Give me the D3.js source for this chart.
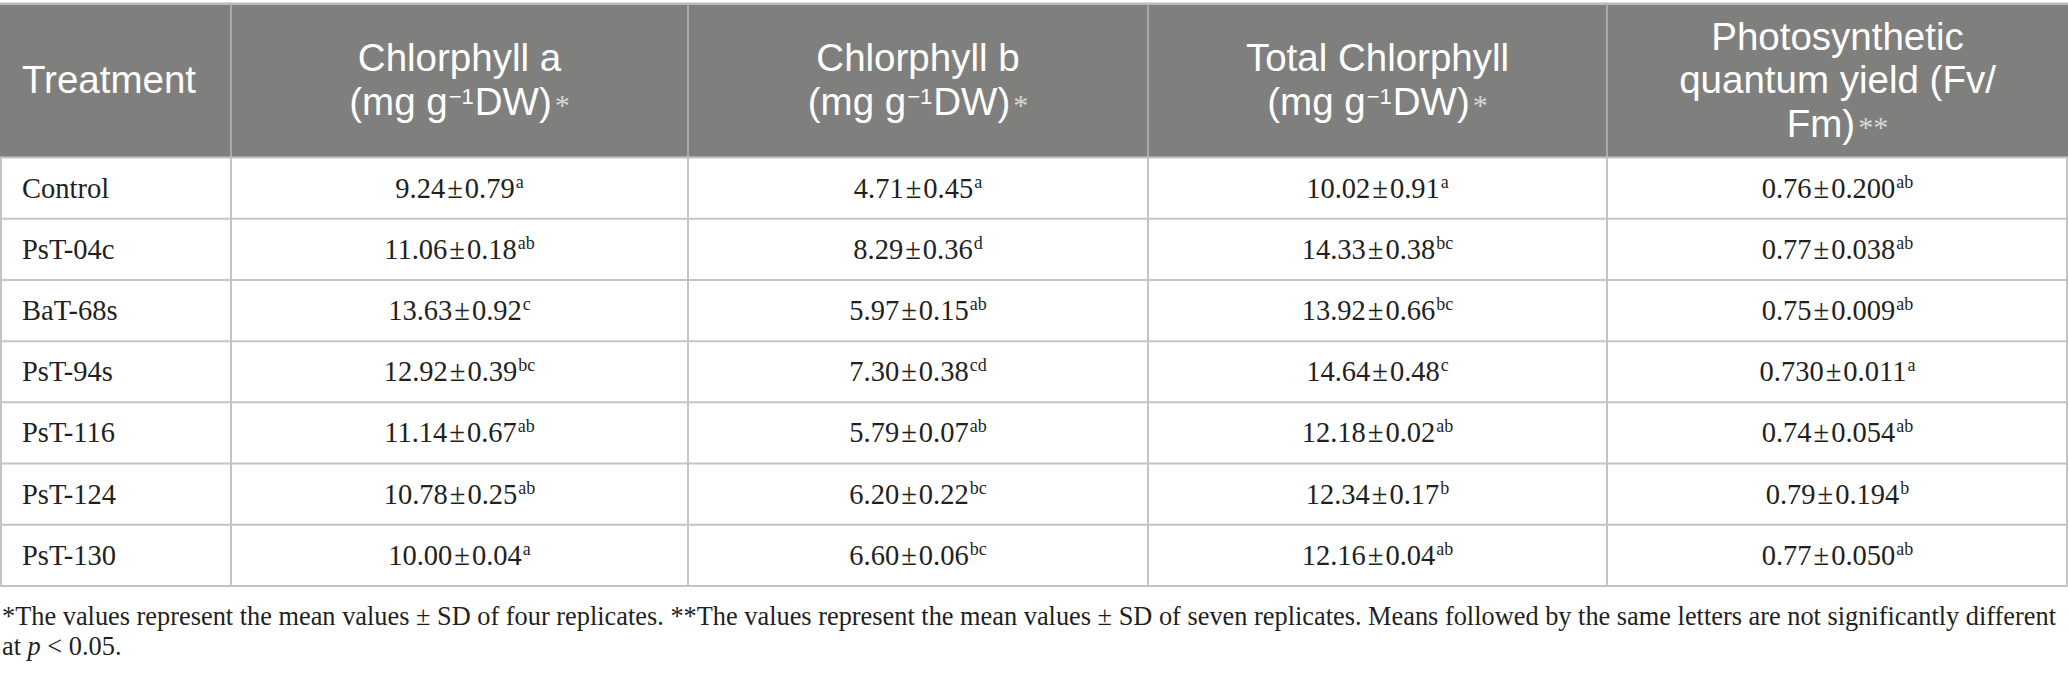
<!DOCTYPE html>
<html>
<head>
<meta charset="utf-8">
<script src="https://cdn.jsdelivr.net/npm/d3@7"></script>
<style>
  html, body { margin: 0; padding: 0; background: #ffffff; }
  svg { display: block; }
</style>
</head>
<body>
<svg id="chart" width="2068" height="676"></svg>
<script>
// ---------------- data ----------------
const treatments = ["Control", "PsT-04c", "BaT-68s", "PsT-94s", "PsT-116", "PsT-124", "PsT-130"];

const chlAMean = ["9.24", "11.06", "13.63", "12.92", "11.14", "10.78", "10.00"];
const chlASd   = ["0.79", "0.18", "0.92", "0.39", "0.67", "0.25", "0.04"];
const chlASig  = ["a", "ab", "c", "bc", "ab", "ab", "a"];

const chlBMean = ["4.71", "8.29", "5.97", "7.30", "5.79", "6.20", "6.60"];
const chlBSd   = ["0.45", "0.36", "0.15", "0.38", "0.07", "0.22", "0.06"];
const chlBSig  = ["a", "d", "ab", "cd", "ab", "bc", "bc"];

const totMean  = ["10.02", "14.33", "13.92", "14.64", "12.18", "12.34", "12.16"];
const totSd    = ["0.91", "0.38", "0.66", "0.48", "0.02", "0.17", "0.04"];
const totSig   = ["a", "bc", "bc", "c", "ab", "b", "ab"];

const fvfmMean = ["0.76", "0.77", "0.75", "0.730", "0.74", "0.79", "0.77"];
const fvfmSd   = ["0.200", "0.038", "0.009", "0.011", "0.054", "0.194", "0.050"];
const fvfmSig  = ["ab", "ab", "ab", "a", "ab", "b", "ab"];

const columnKeys = ["treatment", "chlA", "chlB", "total", "fvfm"];
const headerLines = [
  ["Treatment"],
  ["Chlorphyll a", "(mg g^{\u22121}DW)*"],
  ["Chlorphyll b", "(mg g^{\u22121}DW)*"],
  ["Total Chlorphyll", "(mg g^{\u22121}DW)*"],
  ["Photosynthetic", "quantum yield (Fv/", "Fm)**"]
];
const footnoteLine1 = "*The values represent the mean values \u00b1 SD of four replicates. **The values represent the mean values \u00b1 SD of seven replicates. Means followed by the same letters are not significantly different";

// ---------------- layout ----------------
const W = 2068;
const tableTop = 4.5, headerBottom = 157.5, tableBottom = 586;
const colEdges = [0, 231, 688, 1148, 1607, 2068];

const colLeft  = d3.scaleOrdinal(columnKeys, colEdges.slice(0, 5));
const colRight = d3.scaleOrdinal(columnKeys, colEdges.slice(1));
const colCenter = k => (colLeft(k) + colRight(k)) / 2;
const y = d3.scaleBand().domain(treatments).range([headerBottom, tableBottom]);

const headerFill = "#7f807e";
const gridColor = "#c4c4c4";
const headerGrid = "#a9a9a9";
const textColor = "#231f20";
const sansFont = "'Liberation Sans', Arial, sans-serif";
const serifFont = "'Liberation Serif', 'Times New Roman', serif";

const svg = d3.select("#chart");

// header background
svg.append("rect")
  .attr("x", 0).attr("y", tableTop)
  .attr("width", W).attr("height", headerBottom - tableTop)
  .attr("fill", headerFill);

// top border
svg.append("line")
  .attr("x1", 0).attr("x2", W).attr("y1", 3.5).attr("y2", 3.5)
  .attr("stroke", "#b8b8b8").attr("stroke-width", 2);

// vertical lines
const innerEdges = colEdges.slice(1, 5);
svg.selectAll("line.vh").data(innerEdges).join("line")
  .attr("class", "vh")
  .attr("x1", d => d).attr("x2", d => d)
  .attr("y1", tableTop).attr("y2", headerBottom)
  .attr("stroke", headerGrid).attr("stroke-width", 2);
svg.selectAll("line.vb").data([1, ...innerEdges, W - 1]).join("line")
  .attr("class", "vb")
  .attr("x1", d => d).attr("x2", d => d)
  .attr("y1", headerBottom).attr("y2", tableBottom)
  .attr("stroke", gridColor).attr("stroke-width", 2);

// horizontal lines
svg.selectAll("line.hr").data([...treatments.map(t => y(t)), tableBottom]).join("line")
  .attr("class", "hr")
  .attr("x1", 0).attr("x2", W)
  .attr("y1", d => d).attr("y2", d => d)
  .attr("stroke", gridColor).attr("stroke-width", 2);

// header text: one <text> per line
const headerSize = 38.5, headerLead = 43.5, headerMid = 93;
headerLines.forEach((lines, ci) => {
  const key = columnKeys[ci];
  const n = lines.length;
  const first = headerMid - (n - 1) * headerLead / 2;
  const xPos = ci === 0 ? 22 : colCenter(key);
  lines.forEach((line, li) => {
    const t = svg.append("text")
      .attr("x", xPos)
      .attr("y", first + li * headerLead)
      .attr("text-anchor", ci === 0 ? "start" : "middle")
      .attr("font-family", sansFont)
      .attr("font-size", headerSize)
      .attr("fill", "#ffffff");
    const parts = line.split(/(\^\{[^}]*\}|\*+)/).filter(s => s.length);
    let shifted = 0;
    parts.forEach(p => {
      if (p.startsWith("^{")) {
        t.append("tspan").text(p.slice(2, -1))
          .attr("font-size", 22).attr("dy", -11).attr("dx", 1);
        shifted = 11;
      } else if (p[0] === "*") {
        const ts = t.append("tspan").text(p)
          .attr("font-family", serifFont)
          .attr("font-size", 30)
          .attr("fill", "#d6d6d6")
          .attr("dx", 3);
        if (shifted) { ts.attr("dy", shifted); shifted = 0; }
      } else {
        const ts = t.append("tspan").text(p);
        if (shifted) { ts.attr("dy", shifted).attr("dx", 1); shifted = 0; }
      }
    });
  });
});

// body
const bodySize = 28.5;
const series = [
  { key: "chlA", mean: chlAMean, sd: chlASd, sig: chlASig },
  { key: "chlB", mean: chlBMean, sd: chlBSd, sig: chlBSig },
  { key: "total", mean: totMean, sd: totSd, sig: totSig },
  { key: "fvfm", mean: fvfmMean, sd: fvfmSd, sig: fvfmSig }
];

svg.selectAll("text.treat").data(treatments).join("text")
  .attr("class", "treat")
  .attr("x", 22)
  .attr("y", d => y(d) + 40)
  .attr("font-family", serifFont)
  .attr("font-size", bodySize)
  .attr("fill", textColor)
  .text(d => d);

series.forEach(s => {
  const cells = svg.selectAll(null).data(treatments).join("text")
    .attr("x", colCenter(s.key))
    .attr("y", d => y(d) + 40)
    .attr("text-anchor", "middle")
    .attr("font-family", serifFont)
    .attr("font-size", bodySize)
    .attr("fill", textColor);
  cells.append("tspan").text((d, i) => s.mean[i]);
  cells.append("tspan").attr("dx", 2).text("\u00b1");
  cells.append("tspan").attr("dx", 2).text((d, i) => s.sd[i]);
  cells.append("tspan").attr("dx", 1).attr("dy", -10).attr("font-size", 18)
    .text((d, i) => s.sig[i]);
});

// footnote
const fn = svg.append("g")
  .attr("font-family", serifFont)
  .attr("fill", textColor);
const f1 = fn.append("text").attr("x", 2).attr("y", 625).attr("font-size", 26).text(footnoteLine1);
const f2 = fn.append("text").attr("x", 2).attr("y", 655).attr("font-size", 26);
f2.append("tspan").text("at ");
f2.append("tspan").attr("font-style", "italic").text("p");
f2.append("tspan").text(" < 0.05.");
const natural = f1.node().getComputedTextLength();
const fitSize = 26 * 2055 / natural;
f1.attr("font-size", fitSize);
f2.attr("font-size", fitSize);
</script>
</body>
</html>
